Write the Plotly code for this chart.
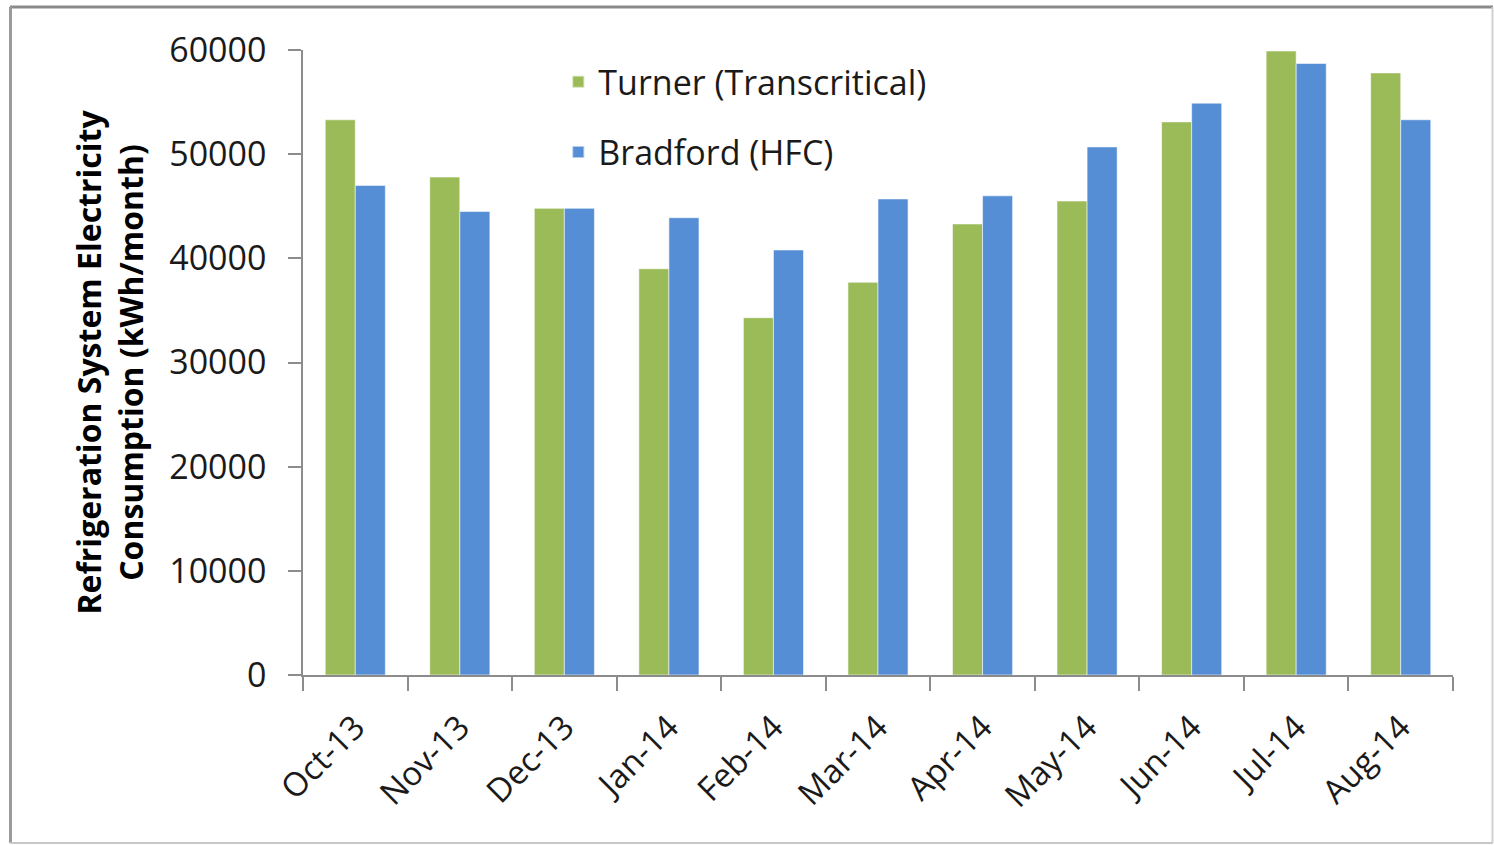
import plotly.graph_objects as go

months = ["Oct-13", "Nov-13", "Dec-13", "Jan-14", "Feb-14", "Mar-14",
          "Apr-14", "May-14", "Jun-14", "Jul-14", "Aug-14"]
turner = [53300, 47800, 44800, 39000, 34300, 37700, 43300, 45500, 53100, 59900, 57800]
bradford = [47000, 44500, 44800, 43900, 40800, 45700, 46000, 50700, 54900, 58700, 53300]

FONT = "Open Sans"
W, H = 1494, 845
L, R, T, B = 303, 41, 50, 170

fig = go.Figure()
fig.add_trace(go.Bar(x=months, y=turner, name="Turner (Transcritical)",
                     marker=dict(color="#9BBB59", line=dict(color="rgba(255,255,255,0.55)", width=1)),
                     legendgroup="a"))
fig.add_trace(go.Bar(x=months, y=bradford, name="Bradford (HFC)",
                     marker=dict(color="#558ED5", line=dict(color="rgba(255,255,255,0.55)", width=1)),
                     legendgroup="b"))

fig.update_layout(
    width=W, height=H,
    margin=dict(l=L, r=R, t=T, b=B, pad=0),
    paper_bgcolor="white", plot_bgcolor="white",
    barmode="group", bargap=0.425, bargroupgap=0,
    font=dict(family=FONT, color="#1a1a1a", size=34),
    showlegend=True,
    legend=dict(x=0.222, y=0.995, xanchor="left", yanchor="top",
                bgcolor="rgba(0,0,0,0)", font=dict(size=34, family=FONT, color="#1a1a1a"),
                traceorder="grouped", tracegroupgap=23, itemsizing="constant"),
    xaxis=dict(showline=True, linecolor="#8c8c8c", linewidth=1.5,
               ticks="outside", ticklen=14, tickcolor="#8c8c8c", tickwidth=1.5,
               tickson="boundaries", tickangle=-45, showgrid=False, ticklabelstandoff=18,
               tickfont=dict(size=33, family=FONT, color="#1a1a1a")),
    yaxis=dict(range=[0, 60000], dtick=10000, tickformat="d",
               showline=True, linecolor="#8c8c8c", linewidth=1.5,
               ticks="outside", ticklen=13, tickcolor="#8c8c8c", tickwidth=1.5,
               showgrid=False, zeroline=False, ticklabelstandoff=15,
               tickfont=dict(size=34, family=FONT, color="#1a1a1a"),
               title=dict(text="Refrigeration System Electricity<br>Consumption (kWh/month)",
                          font=dict(size=32, family=FONT, color="black", weight="bold"),
                          standoff=16)),
)

# outer border
PW, PH = W - L - R, H - T - B
def px(x):
    return (x - L) / PW
def py(y):
    return (H - B - y) / PH

fig.add_shape(type="line", xref="paper", yref="paper", layer="above",
              x0=px(10), x1=px(1493), y0=py(7), y1=py(7),
              line=dict(color="#8a8a8a", width=3))
fig.add_shape(type="line", xref="paper", yref="paper", layer="above",
              x0=px(10.5), x1=px(10.5), y0=py(7), y1=py(843),
              line=dict(color="#9a9a9a", width=3))
fig.add_shape(type="line", xref="paper", yref="paper", layer="above",
              x0=px(10), x1=px(1493), y0=py(843), y1=py(843),
              line=dict(color="#c8c8c8", width=2))
fig.add_shape(type="line", xref="paper", yref="paper", layer="above",
              x0=px(1492.5), x1=px(1492.5), y0=py(7), y1=py(843),
              line=dict(color="#d0d0d0", width=2))

fig.write_html("out.html", config={"displayModeBar": False},
               post_script="document.body.style.margin='0px';document.body.style.overflow='hidden';")
